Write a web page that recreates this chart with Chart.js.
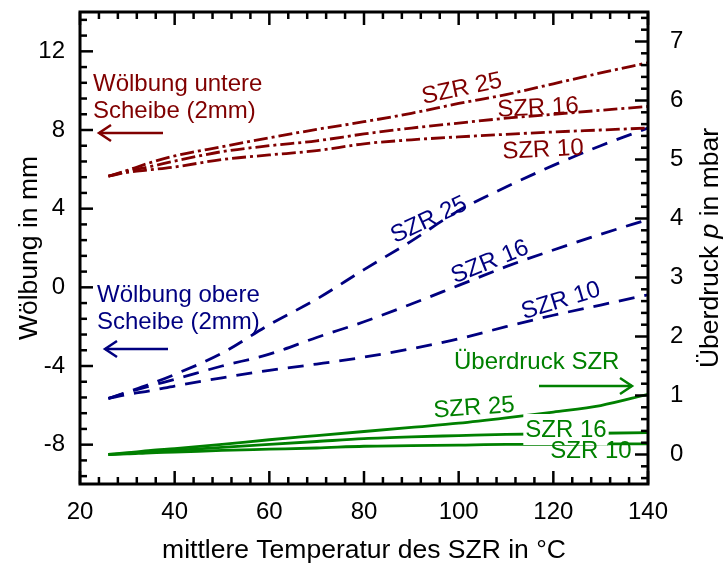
<!DOCTYPE html>
<html>
<head>
<meta charset="utf-8">
<script src="https://cdn.jsdelivr.net/npm/chart.js@4.4.0/dist/chart.umd.min.js"></script>
<style>
  html, body { margin: 0; padding: 0; background: #fff; }
</style>
</head>
<body>
<canvas id="chart" width="728" height="568"></canvas>
<script>
// Temperaturen (x-Achse)
const temperatur = [26, 30, 35, 40, 50, 60, 70, 80, 90, 100, 110, 120, 130, 140];

// Wölbung untere Scheibe in mm
const untereSZR25 = [5.65, 5.95, 6.35, 6.68, 7.15, 7.6, 8.03, 8.42, 8.85, 9.35, 9.8, 10.35, 10.9, 11.42];
const untereSZR16 = [5.65, 5.9, 6.15, 6.42, 6.9, 7.2, 7.45, 7.8, 8.1, 8.35, 8.6, 8.8, 9.0, 9.2];
const untereSZR10 = [5.65, 5.85, 5.98, 6.12, 6.5, 6.73, 6.95, 7.3, 7.5, 7.65, 7.78, 7.9, 8.0, 8.1];

// Wölbung obere Scheibe in mm
const obereSZR25 = [-5.65, -5.32, -4.9, -4.43, -3.35, -1.9, -0.6, 0.9, 2.35, 3.9, 5.1, 6.2, 7.2, 8.1];
const obereSZR16 = [-5.65, -5.35, -5.0, -4.68, -4.0, -3.4, -2.55, -1.75, -0.85, 0.1, 1.05, 1.9, 2.7, 3.45];
const obereSZR10 = [-5.65, -5.45, -5.25, -5.02, -4.6, -4.22, -3.9, -3.55, -3.12, -2.62, -2.0, -1.42, -0.9, -0.38];

// Überdruck im SZR in mbar
const druckSZR25 = [0, 0.03, 0.07, 0.1, 0.17, 0.25, 0.32, 0.39, 0.46, 0.53, 0.62, 0.72, 0.83, 1.02];
const druckSZR16 = [0, 0.02, 0.05, 0.07, 0.12, 0.17, 0.22, 0.27, 0.3, 0.32, 0.34, 0.35, 0.36, 0.37];
const druckSZR10 = [0, 0.01, 0.03, 0.04, 0.07, 0.09, 0.11, 0.14, 0.15, 0.16, 0.17, 0.17, 0.18, 0.18];

// Achsenbeschriftungen
const wolbungTicks = [-8, -4, 0, 4, 8, 12];
const druckTicks = [0, 1, 2, 3, 4, 5, 6, 7];

const ROT = '#800000';
const BLAU = '#000080';
const GRUEN = '#008000';
const SCHRIFT = '"Liberation Sans", Arial, sans-serif';

function punkte(werte) {
    return temperatur.map((t, i) => ({ x: t, y: werte[i] }));
}

function serie(werte, farbe, strich, achse) {
    return {
        data: punkte(werte),
        borderColor: farbe,
        borderWidth: 2.8,
        borderDash: strich,
        pointRadius: 0,
        cubicInterpolationMode: 'monotone',
        fill: false,
        yAxisID: achse
    };
}

const strichPunkt = [14, 4, 3, 4];
const gestrichelt = [16, 10];

// Rahmen mit innenliegenden Ticks
const rahmenPlugin = {
    id: 'rahmen',
    afterDraw(chart) {
        const ctx = chart.ctx;
        const a = chart.chartArea;
        const s = chart.scales;
        ctx.save();
        ctx.strokeStyle = '#000';
        ctx.lineCap = 'butt';

        function strich(x1, y1, x2, y2) {
            ctx.beginPath();
            ctx.moveTo(x1, y1);
            ctx.lineTo(x2, y2);
            ctx.stroke();
        }

        ctx.lineWidth = 2.5;
        for (let k = 0; k <= 30; k++) {
            const px = s.x.getPixelForValue(20 + 4 * k);
            const len = k % 5 === 0 ? 13 : 7;
            strich(px, a.bottom, px, a.bottom - len);
            strich(px, a.top, px, a.top + len);
        }
        for (let k = -2; k <= 27; k++) {
            const py = s.y.getPixelForValue(-8 + 0.8 * k);
            const len = ((k % 5) + 5) % 5 === 0 ? 13 : 7;
            strich(a.left, py, a.left + len, py);
        }
        for (let k = -2; k <= 37; k++) {
            const py = s.y2.getPixelForValue(0.2 * k);
            const len = ((k % 5) + 5) % 5 === 0 ? 13 : 7;
            strich(a.right, py, a.right - len, py);
        }

        ctx.lineWidth = 3;
        ctx.strokeRect(a.left, a.top, a.right - a.left, a.bottom - a.top);
        ctx.restore();
    }
};

// Beschriftungen, Pfeile und Achsentitel
const textPlugin = {
    id: 'texte',
    afterDraw(chart) {
        const ctx = chart.ctx;
        ctx.save();

        function text(str, x, y, farbe, winkel, box) {
            ctx.save();
            ctx.translate(x, y);
            ctx.rotate(winkel * Math.PI / 180);
            ctx.font = '24px ' + SCHRIFT;
            ctx.textAlign = 'center';
            ctx.textBaseline = 'middle';
            if (box) {
                const w = ctx.measureText(str).width;
                ctx.fillStyle = '#fff';
                ctx.fillRect(-w / 2 - 2, -16, w + 4, 31);
            }
            ctx.fillStyle = farbe;
            ctx.fillText(str, 0, 0);
            ctx.restore();
        }

        function links(str, x, y, farbe) {
            ctx.font = '24px ' + SCHRIFT;
            ctx.textAlign = 'left';
            ctx.textBaseline = 'alphabetic';
            ctx.fillStyle = farbe;
            ctx.fillText(str, x, y);
        }

        function pfeil(x1, x2, y, farbe) {
            const r = x2 > x1 ? 1 : -1;
            ctx.strokeStyle = farbe;
            ctx.lineWidth = 2.5;
            ctx.beginPath();
            ctx.moveTo(x1, y);
            ctx.lineTo(x2, y);
            ctx.stroke();
            ctx.beginPath();
            ctx.moveTo(x2 - r * 12, y - 8);
            ctx.lineTo(x2, y);
            ctx.lineTo(x2 - r * 12, y + 8);
            ctx.stroke();
        }

        // Hinweise links
        links('Wölbung untere', 93, 91, ROT);
        links('Scheibe (2mm)', 93, 118, ROT);
        pfeil(163, 99, 133, ROT);

        links('Wölbung obere', 97, 302, BLAU);
        links('Scheibe (2mm)', 97, 329, BLAU);
        pfeil(168, 105, 349, BLAU);

        links('Überdruck SZR', 454, 369, GRUEN);
        pfeil(539, 632, 386, GRUEN);

        // Kurvenbezeichnungen
        text('SZR 25', 462, 89, ROT, -12);
        text('SZR 16', 538, 108, ROT, -3);
        text('SZR 10', 543, 150, ROT, -3);

        text('SZR 25', 429, 220, BLAU, -25);
        text('SZR 16', 490, 262, BLAU, -22);
        text('SZR 10', 561, 301, BLAU, -17);

        text('SZR 25', 474, 408, GRUEN, -4);
        text('SZR 16', 566, 430, GRUEN, 0, true);
        text('SZR 10', 591, 451, GRUEN, 0);

        // Achsentitel
        ctx.fillStyle = '#000';
        ctx.font = '26.5px ' + SCHRIFT;
        ctx.textAlign = 'center';
        ctx.textBaseline = 'middle';
        ctx.fillText('mittlere Temperatur des SZR in °C', 364, 551);

        ctx.save();
        ctx.translate(30, 248);
        ctx.rotate(-Math.PI / 2);
        ctx.fillText('Wölbung in mm', 0, 0);
        ctx.restore();

        // rechter Titel mit kursivem p
        ctx.save();
        ctx.translate(711, 248);
        ctx.rotate(-Math.PI / 2);
        const normal = '26.5px ' + SCHRIFT;
        const kursiv = 'italic 26.5px ' + SCHRIFT;
        const teile = [['Überdruck ', normal], ['p', kursiv], [' in mbar', normal]];
        let gesamt = 0;
        teile.forEach(t => { ctx.font = t[1]; gesamt += ctx.measureText(t[0]).width; });
        let x = -gesamt / 2;
        ctx.textAlign = 'left';
        teile.forEach(t => {
            ctx.font = t[1];
            ctx.fillText(t[0], x, 0);
            x += ctx.measureText(t[0]).width;
        });
        ctx.restore();

        ctx.restore();
    }
};

const tickFont = { family: SCHRIFT, size: 24 };

function ohneRand(s) {
    s.paddingTop = 0;
    s.paddingBottom = 0;
    s.paddingLeft = 0;
    s.paddingRight = 0;
}

new Chart(document.getElementById('chart'), {
    type: 'line',
    data: {
        datasets: [
            serie(untereSZR25, ROT, strichPunkt, 'y'),
            serie(untereSZR16, ROT, strichPunkt, 'y'),
            serie(untereSZR10, ROT, strichPunkt, 'y'),
            serie(obereSZR25, BLAU, gestrichelt, 'y'),
            serie(obereSZR16, BLAU, gestrichelt, 'y'),
            serie(obereSZR10, BLAU, gestrichelt, 'y'),
            serie(druckSZR25, GRUEN, [], 'y2'),
            serie(druckSZR16, GRUEN, [], 'y2'),
            serie(druckSZR10, GRUEN, [], 'y2')
        ]
    },
    options: {
        responsive: false,
        animation: false,
        devicePixelRatio: 1,
        layout: { padding: { top: 12, left: 0, right: 0, bottom: 0 } },
        plugins: { legend: { display: false }, tooltip: { enabled: false } },
        scales: {
            x: {
                type: 'linear',
                min: 20,
                max: 140,
                ticks: { stepSize: 20, font: tickFont, color: '#000', padding: 14, maxRotation: 0 },
                grid: { display: false, drawTicks: false },
                border: { display: false },
                afterFit: s => { s.height = 84; ohneRand(s); }
            },
            y: {
                position: 'left',
                min: -10,
                max: 14,
                afterBuildTicks: s => { s.ticks = wolbungTicks.map(v => ({ value: v })); },
                ticks: { font: tickFont, color: '#000', padding: 15 },
                grid: { display: false, drawTicks: false },
                border: { display: false },
                afterFit: s => { s.width = 80; ohneRand(s); }
            },
            y2: {
                position: 'right',
                min: -0.5,
                max: 7.5,
                afterBuildTicks: s => { s.ticks = druckTicks.map(v => ({ value: v })); },
                ticks: { font: tickFont, color: '#000', padding: 22 },
                grid: { display: false, drawTicks: false },
                border: { display: false },
                afterFit: s => { s.width = 80; ohneRand(s); }
            }
        }
    },
    plugins: [rahmenPlugin, textPlugin]
});
</script>
</body>
</html>
